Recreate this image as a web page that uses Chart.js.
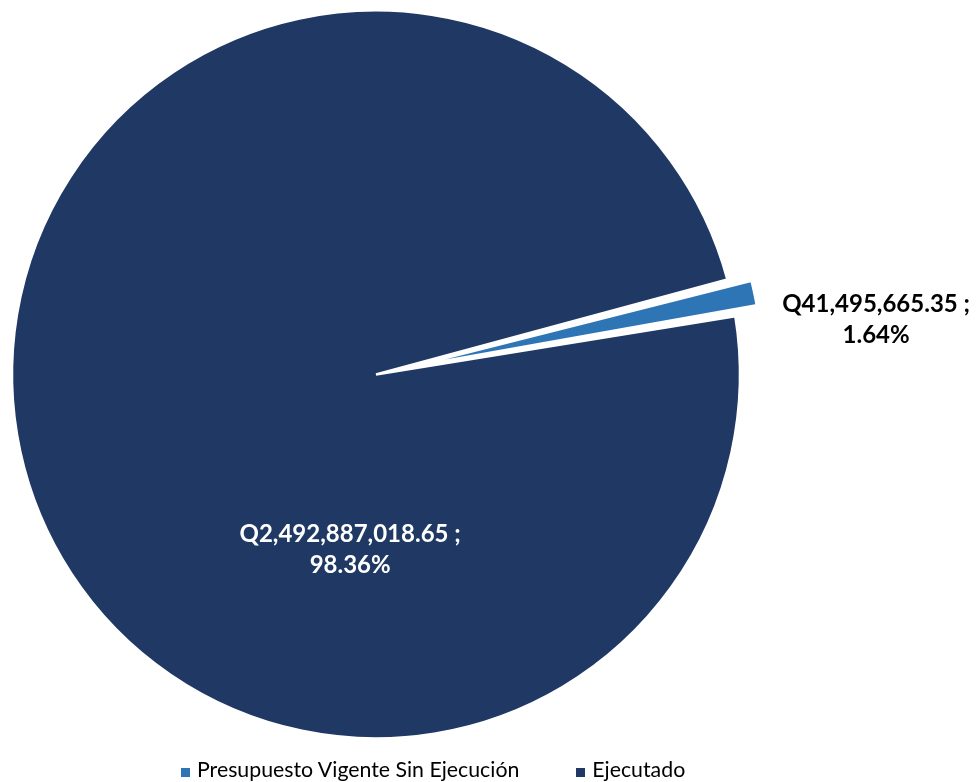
<!DOCTYPE html>
<html lang="es">
<head>
<meta charset="utf-8">
<title>Presupuesto</title>
<script src="https://cdn.jsdelivr.net/npm/chart.js@4.4.1/dist/chart.umd.min.js"></script>
<style>
  html, body { margin: 0; padding: 0; background: #fff; }
  #wrap { position: relative; width: 976px; height: 782px; overflow: hidden; }
  #legend {
    position: absolute; left: 181px; top: 757px;
    display: flex; gap: 57px;
    font-family: Lato, "Liberation Sans", sans-serif; font-size: 21.3px; line-height: 25px; color: #000;
    white-space: nowrap;
  }
  .lg-item { display: flex; align-items: center; }
  .lg-box { width: 9px; height: 9px; margin-right: 7px; margin-top: 5px; }
</style>
</head>
<body>
<div id="wrap">
  <canvas id="pie"></canvas>
  <div id="legend"></div>
</div>
<script>
// ---------- 数据 ----------
const LABELS = ['Presupuesto Vigente Sin Ejecución', 'Ejecutado'];
const VALUES = [41495665.35, 2492887018.65];
const COLORS = ['#2E75B6', '#203864'];
const LABEL_COLORS = ['#000000', '#ffffff'];

// ---------- 样式 ----------
const PIE_R = 364;          // radius of the pie
const EXPLODE_PX = 38;      // how far the small slice is pulled out
const EXPLODED_R = 349;     // Excel draws the pulled-out slice a bit smaller
const LABEL_POS = [[1.374, -0.149], [-0.071, 0.481]]; // label centre, as fraction of radius

const fmtQ = (n) => 'Q' + n.toLocaleString('en-US', { minimumFractionDigits: 2, maximumFractionDigits: 2 });
const total = VALUES.reduce((s, v) => s + v, 0);

// chart.js grows an offset arc by offset/4 * fix; undo that so the slice keeps EXPLODED_R
const explodedRadius = {
  id: 'explodedRadius',
  afterDatasetUpdate(chart) {
    const meta = chart.getDatasetMeta(0);
    meta.data.forEach((arc, i) => {
      const off = meta.controller.getDataset().offset[i] || 0;
      if (!off) return;
      const fix = 1 - Math.sin(Math.min(Math.PI, arc.circumference));
      arc.outerRadius = EXPLODED_R - (off / 4) * fix;
    });
  }
};

const valueLabels = {
  id: 'valueLabels',
  afterDatasetsDraw(chart) {
    const ctx = chart.ctx;
    const meta = chart.getDatasetMeta(0);
    const r = meta.controller.outerRadius;
    ctx.save();
    ctx.font = 'bold 24px Lato, "Liberation Sans", sans-serif';
    ctx.textAlign = 'center';
    ctx.textBaseline = 'middle';
    meta.data.forEach((arc, i) => {
      const x = arc.x + LABEL_POS[i][0] * r;
      const y = arc.y + LABEL_POS[i][1] * r;
      const pct = (VALUES[i] / total * 100).toFixed(2) + '%';
      ctx.fillStyle = LABEL_COLORS[i];
      ctx.fillText(fmtQ(VALUES[i]) + ' ;', x, y - 15.5);
      ctx.fillText(pct, x, y + 15.5);
    });
    ctx.restore();
  }
};

new Chart(document.getElementById('pie'), {
  type: 'pie',
  data: {
    labels: LABELS,
    datasets: [{
      data: VALUES,
      backgroundColor: COLORS,
      borderColor: '#ffffff',
      borderWidth: 2.5,
      offset: [EXPLODE_PX * 4, 0],
    }],
  },
  options: {
    responsive: true,
    maintainAspectRatio: false,
    animation: false,
    rotation: 74.9,
    radius: PIE_R,
    layout: { padding: { left: 0, right: 224, top: 0, bottom: 33.2 } },
    plugins: {
      legend: { display: false },
      tooltip: { enabled: false },
    },
  },
  plugins: [explodedRadius, valueLabels],
});

// ---------- 图例 ----------
document.getElementById('legend').innerHTML = LABELS.map((l, i) => `
  <div class="lg-item"><span class="lg-box" style="background:${COLORS[i]}"></span><span>${l}</span></div>
`).join('');
</script>
</body>
</html>
